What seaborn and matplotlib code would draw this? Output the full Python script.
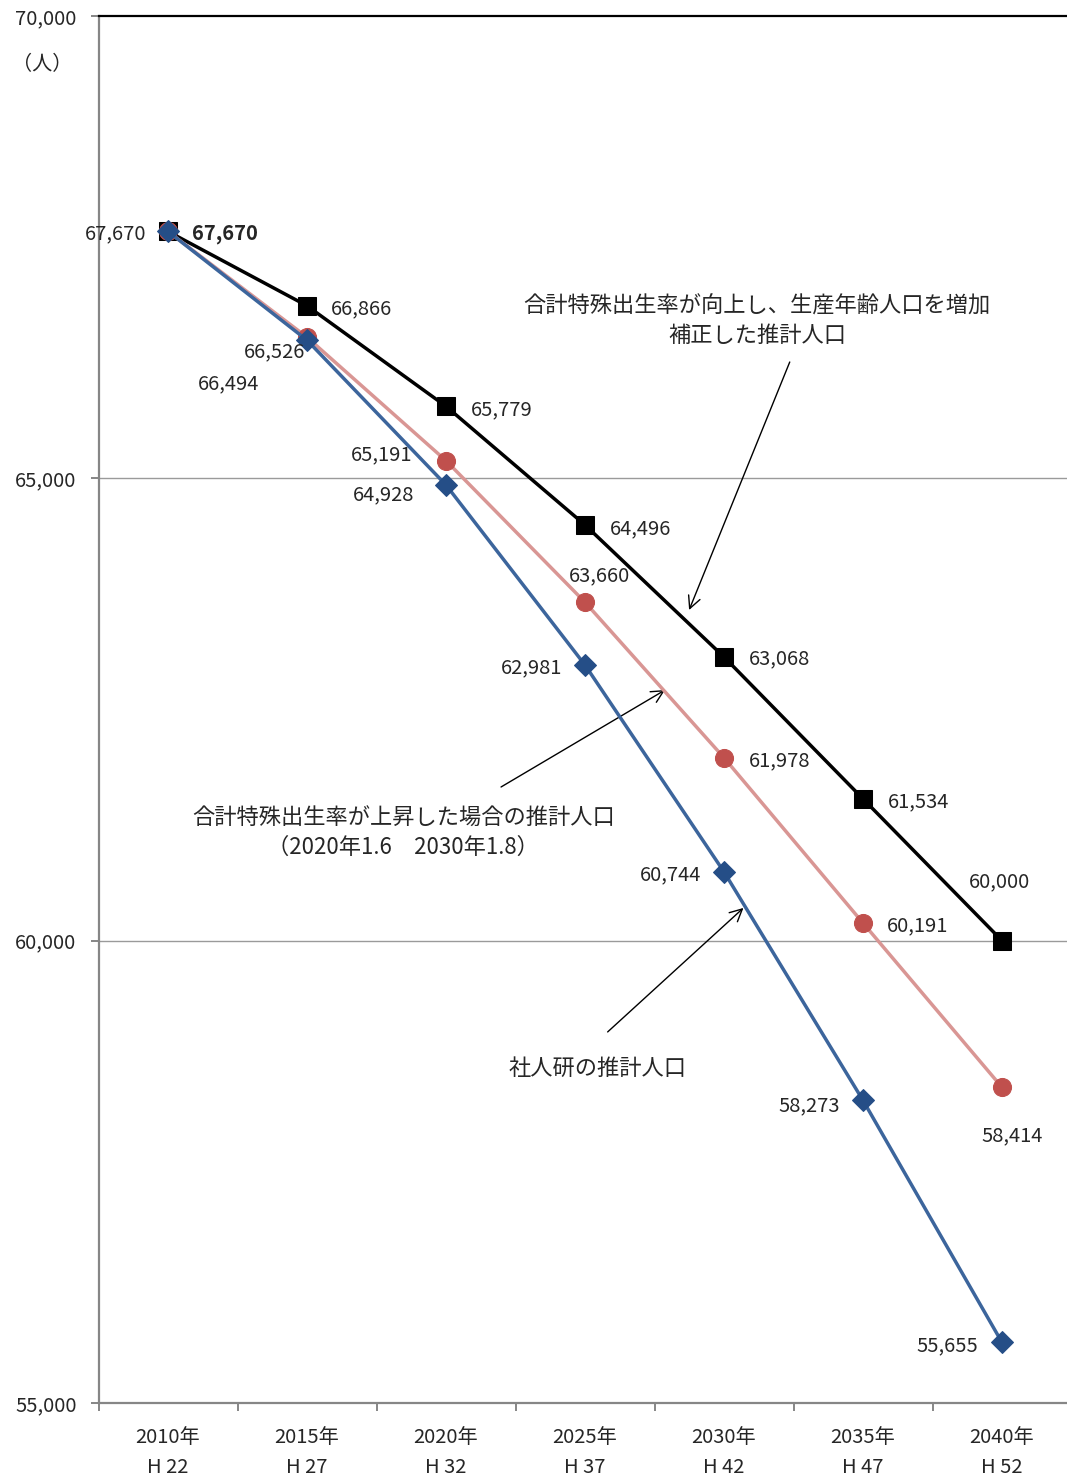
import matplotlib
matplotlib.use("Agg")
import matplotlib.pyplot as plt
import seaborn as sns
import pandas as pd
import numpy as np

# ---- data ----
years = ["2010年", "2015年", "2020年", "2025年", "2030年", "2035年", "2040年"]
heisei = ["H 22", "H 27", "H 32", "H 37", "H 42", "H 47", "H 52"]
adjusted = [67670, 66866, 65779, 64496, 63068, 61534, 60000]   # 合計特殊出生率が向上し、生産年齢人口を増加補正
raised = [67670, 66526, 65191, 63660, 61978, 60191, 58414]     # 合計特殊出生率が上昇した場合
ipss = [67670, 66494, 64928, 62981, 60744, 58273, 55655]       # 社人研

sns.set_theme(style="white")
plt.rcParams["font.family"] = ["Noto Sans CJK JP", "DejaVu Sans"]

W, H = 1067, 1479
NUM_FS = 14.5
fig = plt.figure(figsize=(W / 100, H / 100), dpi=100)
ax = fig.add_axes([98.5 / W, (H - 1403) / H, 973 / W, 1387 / H])

x = np.arange(len(years))
df = pd.DataFrame({"x": x, "adjusted": adjusted, "raised": raised, "ipss": ipss})

sns.lineplot(data=df, x="x", y="adjusted", ax=ax, color="black", lw=2.5,
             marker="s", markersize=13, markerfacecolor="black",
             markeredgecolor="black", zorder=3, clip_on=False)
sns.lineplot(data=df, x="x", y="raised", ax=ax, color="#D99694", lw=2.5,
             marker="o", markersize=13, markerfacecolor="#C0504D",
             markeredgecolor="#C0504D", zorder=4)
sns.lineplot(data=df, x="x", y="ipss", ax=ax, color="#3C659C", lw=2.5,
             marker="D", markersize=11, markerfacecolor="#254E87",
             markeredgecolor="#254E87", zorder=5)

ax.set_xlim(-0.5, 6.5)
ax.set_ylim(55000, 70000)
ax.set_xlabel("")
ax.set_ylabel("")

# grid
for gy in [60000, 65000]:
    ax.axhline(gy, color="#9a9a9a", lw=1.0, zorder=1)

# spines
ax.spines["right"].set_visible(False)
ax.spines["top"].set_color("black")
ax.spines["top"].set_linewidth(1.6)
for s in ["left", "bottom"]:
    ax.spines[s].set_color("#868686")
    ax.spines[s].set_linewidth(1.6)

# ticks
ax.set_yticks([55000, 60000, 65000, 70000])
ax.set_yticklabels([f"{v:,}" for v in [55000, 60000, 65000, 70000]], fontsize=NUM_FS)
ax.tick_params(axis="y", length=5.8, width=1.4, color="#868686", pad=10,
               direction="out", left=True)
ax.set_xticks(x)
ax.set_xticklabels([f"{a}\n{b}" for a, b in zip(years, heisei)], fontsize=NUM_FS,
                   linespacing=1.6)
ax.tick_params(axis="x", length=0, pad=17)
ax.set_xticks(np.arange(-0.5, 7.0, 1.0), minor=True)
ax.tick_params(axis="x", which="minor", length=5.8, width=1.4, color="#868686",
               direction="out", bottom=True)

fig.text(42 / W, 1 - 65 / H, "（人）", fontsize=NUM_FS, ha="center", va="center")

# data labels: (dx px, dy px, ha)
adj_off = [(24, -2, "left"), (24, -3, "left"), (25, -3, "left"), (25, -4, "left"),
           (25, -2, "left"), (25, -3, "left"), (-2, 59, "center")]
rai_off = [(-22, -2, "right"), (-2, -15, "right"), (-34, 6, "right"),
           (15, 26, "center"), (25, -3, "left"), (24, -3, "left"), (10, -48, "center")]
ips_off = [None, (-78, -44, "center"), (-32, -10, "right"), (-23, -3, "right"),
           (-23, -3, "right"), (-23, -5, "right"), (-24, -3, "right")]

def label(series, offs, bold_first=False):
    for i, (v, o) in enumerate(zip(series, offs)):
        if o is None:
            continue
        dx, dy, ha = o
        ax.annotate(f"{v:,}", (x[i], v), xytext=(dx, dy), textcoords="offset pixels",
                    ha=ha, va="center", fontsize=NUM_FS,
                    fontweight="bold" if (bold_first and i == 0) else "normal",
                    zorder=6)

label(adjusted, adj_off, bold_first=True)
label(raised, rai_off)
label(ipss, ips_off)

# annotations with arrows
ap = dict(arrowstyle="->", lw=1.0, color="black", mutation_scale=22,
          shrinkA=0, shrinkB=0)
ax.annotate("", xy=(3.749, 63576), xytext=(4.473, 66258), arrowprops=ap)
ax.annotate("", xy=(3.576, 62711), xytext=(2.396, 61662), arrowprops=ap)
ax.annotate("", xy=(4.140, 60354), xytext=(3.163, 59013), arrowprops=ap)

ax.text(4.24, 66702, "合計特殊出生率が向上し、生産年齢人口を増加\n補正した推計人口",
        ha="center", va="center", fontsize=16, linespacing=1.35)
ax.text(1.693, 61165, "合計特殊出生率が上昇した場合の推計人口\n（2020年1.6　2030年1.8）",
        ha="center", va="center", fontsize=16, linespacing=1.35)
ax.text(3.09, 58623, "社人研の推計人口", ha="center", va="center", fontsize=16)

fig.savefig("out.png", dpi=100)
